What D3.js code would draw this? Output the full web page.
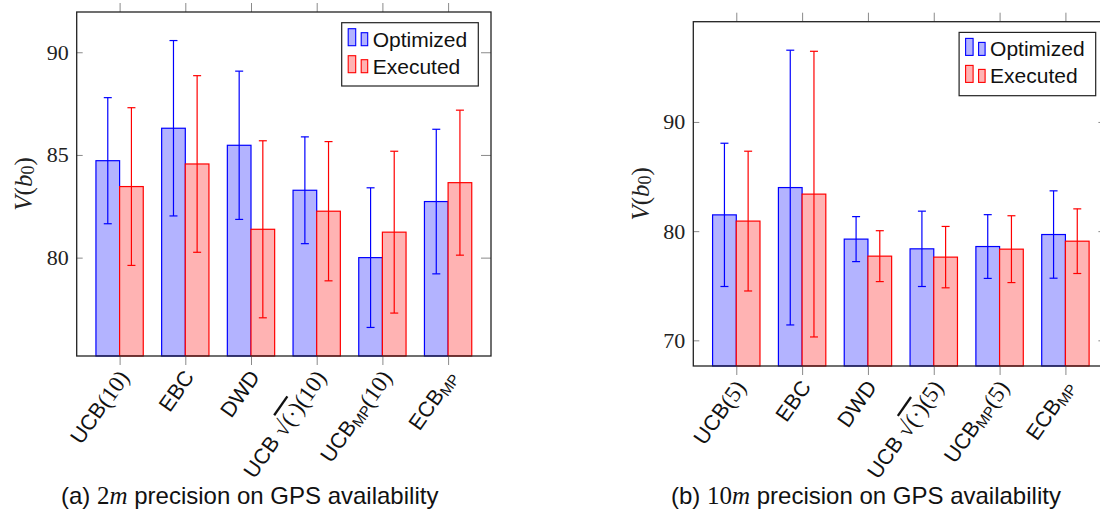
<!DOCTYPE html>
<html>
<head>
<meta charset="utf-8">
<script src="https://cdn.jsdelivr.net/npm/d3@7"></script>
<style>
  body { margin: 0; background: #fff; }
  .sans { font-family: "Liberation Sans", Arial, sans-serif; }
  .serif { font-family: "Liberation Serif", "Times New Roman", serif; }
</style>
</head>
<body>
<script>
// ---------------------------//
//       DATA                 //
// ---------------------------//

var series = ["Optimized", "Executed"];

// panel (a): 2m precision
var labelsA = [
  [{t: "UCB"}, {t: "(10)", f: "serif"}],
  [{t: "EBC"}],
  [{t: "DWD"}],
  [{t: "UCB "}, {t: "√", f: "serif"}, {t: "(·)", f: "serif", over: true}, {t: "(10)", f: "serif"}],
  [{t: "UCB"}, {t: "MP", sub: true}, {t: "(10)", f: "serif"}],
  [{t: "ECB"}, {t: "MP", sub: true}]
];
var optA    = [84.72, 86.30, 85.47, 83.28, 80.00, 82.73];
var optErrA = [3.07, 4.27, 3.61, 2.60, 3.40, 3.52];
var exeA    = [83.46, 84.56, 81.38, 82.26, 81.24, 83.65];
var exeErrA = [3.84, 4.30, 4.31, 3.39, 3.94, 3.53];
var yTicksA = [80, 85, 90];

// panel (b): 10m precision
var labelsB = [
  [{t: "UCB"}, {t: "(5)", f: "serif"}],
  [{t: "EBC"}],
  [{t: "DWD"}],
  [{t: "UCB "}, {t: "√", f: "serif"}, {t: "(·)", f: "serif", over: true}, {t: "(5)", f: "serif"}],
  [{t: "UCB"}, {t: "MP", sub: true}, {t: "(5)", f: "serif"}],
  [{t: "ECB"}, {t: "MP", sub: true}]
];
var optB    = [81.49, 83.99, 79.27, 78.38, 78.59, 79.69];
var optErrB = [6.56, 12.58, 2.06, 3.45, 2.92, 4.00];
var exeB    = [80.92, 83.39, 77.71, 77.62, 78.35, 79.08];
var exeErrB = [6.40, 13.08, 2.33, 2.81, 3.06, 2.96];
var yTicksB = [70, 80, 90];

var fills   = {Optimized: "#b3b3ff", Executed: "#ffb3b3"};
var strokes = {Optimized: "#0000ff", Executed: "#ff0000"};

var svg = d3.select("body").append("svg")
  .attr("width", 1100)
  .attr("height", 513);

function drawPanel(p) {

  // ---------------------------//
  //       AXIS  AND SCALE      //
  // ---------------------------//
  var idx = d3.range(p.labels.length);

  var x = d3.scalePoint()
    .domain(idx)
    .range([p.left, p.right])
    .padding(0.653);

  var bw = x.step() * 0.36;
  var xs = d3.scaleBand()
    .domain(series)
    .range([-bw, bw]);

  var y = d3.scaleLinear()
    .domain(p.yDomain)
    .range([p.bottom, p.top]);

  var g = svg.append("g");

  var rows = idx.map(function(i) {
    return [
      {s: "Optimized", i: i, v: p.opt[i], e: p.optErr[i]},
      {s: "Executed",  i: i, v: p.exe[i], e: p.exeErr[i]}
    ];
  });
  var flat = d3.merge(rows);

  // bars
  g.append("g")
    .selectAll("rect")
    .data(flat)
    .enter()
    .append("rect")
    .attr("x", function(d) { return x(d.i) + xs(d.s); })
    .attr("y", function(d) { return y(d.v); })
    .attr("width", xs.bandwidth())
    .attr("height", function(d) { return p.bottom - y(d.v); })
    .style("fill", function(d) { return fills[d.s]; })
    .style("stroke", function(d) { return strokes[d.s]; })
    .style("stroke-width", 1.2);

  // error bars
  var eb = g.append("g")
    .selectAll("g")
    .data(flat)
    .enter()
    .append("g")
    .style("stroke", function(d) { return strokes[d.s]; })
    .style("stroke-width", 1.2);

  var cx = function(d) { return x(d.i) + xs(d.s) + xs.bandwidth() / 2; };
  eb.append("line")
    .attr("x1", cx).attr("x2", cx)
    .attr("y1", function(d) { return y(d.v + d.e); })
    .attr("y2", function(d) { return y(d.v - d.e); });
  eb.append("line")
    .attr("x1", function(d) { return cx(d) - 4; })
    .attr("x2", function(d) { return cx(d) + 4; })
    .attr("y1", function(d) { return y(d.v + d.e); })
    .attr("y2", function(d) { return y(d.v + d.e); });
  eb.append("line")
    .attr("x1", function(d) { return cx(d) - 4; })
    .attr("x2", function(d) { return cx(d) + 4; })
    .attr("y1", function(d) { return y(d.v - d.e); })
    .attr("y2", function(d) { return y(d.v - d.e); });

  // x ticks: outside, top and bottom
  g.append("g")
    .attr("transform", "translate(0," + p.bottom + ")")
    .call(d3.axisBottom(x).tickSize(9).tickFormat(""))
    .call(function(a) { a.select(".domain").remove(); a.selectAll("line").attr("stroke", "#8a8a8a"); });
  g.append("g")
    .attr("transform", "translate(0," + p.top + ")")
    .call(d3.axisTop(x).tickSize(9).tickFormat(""))
    .call(function(a) { a.select(".domain").remove(); a.selectAll("line").attr("stroke", "#8a8a8a"); });

  // y ticks: inside, left and right
  g.append("g")
    .attr("transform", "translate(" + p.left + ",0)")
    .call(d3.axisLeft(y).tickValues(p.yTicks).tickSize(-6).tickPadding(8))
    .call(function(a) {
      a.select(".domain").remove();
      a.selectAll("line").attr("stroke", "#8a8a8a");
      a.selectAll("text")
        .attr("class", "serif")
        .style("font-size", "22px")
        .attr("fill", "#222");
    });
  g.append("g")
    .attr("transform", "translate(" + p.right + ",0)")
    .call(d3.axisRight(y).tickValues(p.yTicks).tickSize(-10).tickFormat(""))
    .call(function(a) { a.select(".domain").remove(); a.selectAll("line").attr("stroke", "#8a8a8a"); });

  // frame
  g.append("rect")
    .attr("x", p.left).attr("y", p.top)
    .attr("width", p.right - p.left)
    .attr("height", p.bottom - p.top)
    .style("fill", "none")
    .style("stroke", "#222")
    .style("stroke-width", 1.3);

  // y label
  var yl = g.append("text")
    .attr("class", "serif")
    .attr("transform", "translate(" + p.ylabelX + "," + (p.top + p.bottom) / 2 + ") rotate(-90)")
    .attr("text-anchor", "middle")
    .attr("dominant-baseline", "central")
    .style("font-size", "25px")
    .attr("fill", "#222");
  yl.append("tspan").style("font-style", "italic").text("V");
  yl.append("tspan").text("(");
  yl.append("tspan").style("font-style", "italic").text("b");
  yl.append("tspan").attr("dy", 5).style("font-size", "18px").text("0");
  yl.append("tspan").attr("dy", -5).text(")");

  // x tick labels, rotated
  idx.forEach(function(i) {
    var t = g.append("text")
      .attr("class", "sans")
      .attr("text-anchor", "end")
      .attr("dominant-baseline", "central")
      .attr("transform", "translate(" + (x(i) + 4) + "," + (p.bottom + 17) + ") rotate(-55)")
      .style("font-size", "21.5px")
      .attr("fill", "#111");
    var shifted = false;
    p.labels[i].forEach(function(seg) {
      var ts = t.append("tspan").text(seg.t);
      if (seg.f === "serif") ts.attr("class", "serif").style("font-size", "23px");
      if (seg.over) ts.style("text-decoration", "overline");
      if (seg.sub) {
        ts.attr("dy", 4).style("font-size", "15px");
        shifted = true;
      } else if (shifted) {
        ts.attr("dy", -4);
        shifted = false;
      }
    });
  });

  // ---------------------------//
  //       LEGEND               //
  // ---------------------------//
  var lx = p.right - 149.3, ly = p.top + 10.7;
  var lg = g.append("g").attr("transform", "translate(" + lx + "," + ly + ")");
  lg.append("rect")
    .attr("width", 136.6).attr("height", 63.3)
    .style("fill", "#fff")
    .style("stroke", "#222")
    .style("stroke-width", 1.2);
  series.forEach(function(s, k) {
    var base = 23 + k * 27;
    lg.append("rect")
      .attr("x", 6.5).attr("y", base - 17)
      .attr("width", 7.5).attr("height", 17)
      .style("fill", fills[s]).style("stroke", strokes[s]).style("stroke-width", 1.1);
    lg.append("rect")
      .attr("x", 19.5).attr("y", base - 13)
      .attr("width", 6.5).attr("height", 13)
      .style("fill", fills[s]).style("stroke", strokes[s]).style("stroke-width", 1.1);
    lg.append("text")
      .attr("class", "sans")
      .attr("x", 31)
      .attr("y", base + 1)
      .style("font-size", "21px")
      .attr("fill", "#111")
      .text(s);
  });

  // caption
  var cap = g.append("text")
    .attr("class", "sans")
    .attr("x", p.captionX)
    .attr("y", 504)
    .style("font-size", "24px")
    .attr("fill", "#111");
  cap.append("tspan").text(p.capTag + " ");
  cap.append("tspan").attr("class", "serif").style("font-size", "25px").text(p.capNum);
  cap.append("tspan").attr("class", "serif").style("font-size", "25px").style("font-style", "italic").text("m");
  cap.append("tspan").text(" precision on GPS availability");
}

drawPanel({
  left: 76.7, right: 491, top: 12, bottom: 356,
  yDomain: [75.21, 91.96], yTicks: yTicksA,
  labels: labelsA, opt: optA, optErr: optErrA, exe: exeA, exeErr: exeErrA,
  ylabelX: 23, captionX: 61, capTag: "(a)", capNum: "2"
});

drawPanel({
  left: 693.3, right: 1108.4, top: 21.7, bottom: 366,
  yDomain: [67.65, 99.18], yTicks: yTicksB,
  labels: labelsB, opt: optB, optErr: optErrB, exe: exeB, exeErr: exeErrB,
  ylabelX: 640, captionX: 671, capTag: "(b)", capNum: "10"
});
</script>
</body>
</html>
